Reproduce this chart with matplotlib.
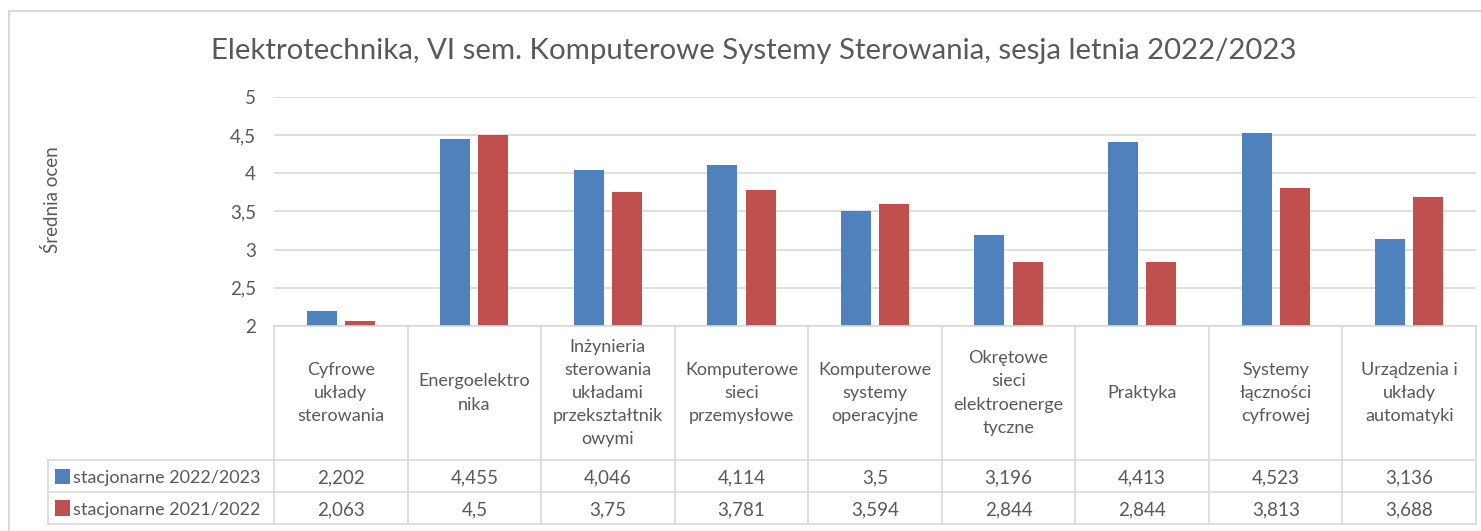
import matplotlib
matplotlib.use("Agg")
import matplotlib.pyplot as plt
from matplotlib.transforms import blended_transform_factory
from matplotlib.patches import Rectangle
from matplotlib.lines import Line2D

plt.rcParams['font.family'] = ['Lato', 'DejaVu Sans']

title = "Elektrotechnika, VI sem. Komputerowe Systemy Sterowania, sesja letnia 2022/2023"
y_label = "Średnia ocen"
categories = [
    "Cyfrowe\nukłady\nsterowania",
    "Energoelektro\nnika",
    "Inżynieria\nsterowania\nukładami\nprzekształtnik\nowymi",
    "Komputerowe\nsieci\nprzemysłowe",
    "Komputerowe\nsystemy\noperacyjne",
    "Okrętowe\nsieci\nelektroenerge\ntyczne",
    "Praktyka",
    "Systemy\nłączności\ncyfrowej",
    "Urządzenia i\nukłady\nautomatyki",
]
series_names = ["stacjonarne 2022/2023", "stacjonarne 2021/2022"]
values_2023 = [2.202, 4.455, 4.046, 4.114, 3.5, 3.196, 4.413, 4.523, 3.136]
values_2022 = [2.063, 4.5, 3.75, 3.781, 3.594, 2.844, 2.844, 3.813, 3.688]
y_ticks = [2, 2.5, 3, 3.5, 4, 4.5, 5]

colors = ["#4F81BD", "#C0504D"]
text_color = "#595959"
line_color = "#D9D9D9"

W, H = 1481, 531
fig = plt.figure(figsize=(W / 100, H / 100), dpi=100)

# plot area in pixel units
PL, PR, PT, PB = 274, 1476, 97, 326
ax = fig.add_axes([PL / W, 1 - PB / H, (PR - PL) / W, (PB - PT) / H])

def fy(y):
    return 1 - y / H

def fx(x):
    return x / W

n = len(categories)
idx = list(range(n))
bw = 0.225
off = 0.143
ax.bar([i - off for i in idx], values_2023, width=bw, color=colors[0], linewidth=0, zorder=3)
ax.bar([i + off for i in idx], values_2022, width=bw, color=colors[1], linewidth=0, zorder=3)

ax.set_xlim(-0.5, n - 0.5)
ax.set_ylim(2, 5)
ax.set_yticks(y_ticks)
ax.set_yticklabels([f"{t:g}".replace('.', ',') for t in y_ticks])
ax.tick_params(axis='y', length=0, pad=13, labelsize=13.5, labelcolor=text_color)
ax.set_xticks([])
ax.grid(axis='y', color=line_color, linewidth=1.2, zorder=0)
for s in ax.spines.values():
    s.set_visible(False)

# chart border
fig.patches.append(Rectangle((fx(9), fy(540)), fx(1500 - 9), fy(11) - fy(540),
                             transform=fig.transFigure, fill=False,
                             edgecolor=line_color, linewidth=1.5))

fig.text(fx(753.5), fy(59), title, ha='center', va='baseline',
         fontsize=21.2, color=text_color)
fig.text(fx(52), fy(200), y_label, ha='center', va='center', rotation=90,
         fontsize=13.5, color=text_color)

# data table
trans = blended_transform_factory(ax.transData, fig.transFigure)
cat_w = (PR - PL) / n

T_TOP, R1, R2, T_BOT = 326, 460, 492, 524
LEG_L = 48

def hline(x0, x1, y):
    fig.add_artist(Line2D([fx(x0), fx(x1)], [fy(y), fy(y)], transform=fig.transFigure,
                          color=line_color, linewidth=1.2))

def vline(x, y0, y1):
    fig.add_artist(Line2D([fx(x), fx(x)], [fy(y0), fy(y1)], transform=fig.transFigure,
                          color=line_color, linewidth=1.2))

hline(PL, PR, T_TOP)
for y in (R1, R2, T_BOT):
    hline(LEG_L, PR, y)
for i in range(n + 1):
    vline(PL + i * cat_w, T_TOP, T_BOT)
vline(LEG_L, R1, T_BOT)

for i, cat in enumerate(categories):
    fig.text(i, fy((T_TOP + R1) / 2), cat, transform=trans, ha='center', va='center',
             fontsize=13, color=text_color, linespacing=1.55)

def fmt(v):
    return f"{v:g}".replace('.', ',')

row_baselines = [483, 515]
for r, vals in enumerate([values_2023, values_2022]):
    for i, v in enumerate(vals):
        fig.text(i, fy(row_baselines[r]), fmt(v), transform=trans, ha='center',
                 va='baseline', fontsize=13.5, color=text_color)
    yc = (R1 + R2) / 2 if r == 0 else (R2 + T_BOT) / 2
    fig.patches.append(Rectangle((fx(55), fy(yc + 7.5)), fx(15), fy(yc - 7.5) - fy(yc + 7.5),
                                 transform=fig.transFigure, facecolor=colors[r],
                                 edgecolor='none'))
    fig.text(fx(73), fy(row_baselines[r]), series_names[r], ha='left', va='baseline',
             fontsize=13, color=text_color)

fig.savefig("out.png", dpi=100, facecolor='white')
